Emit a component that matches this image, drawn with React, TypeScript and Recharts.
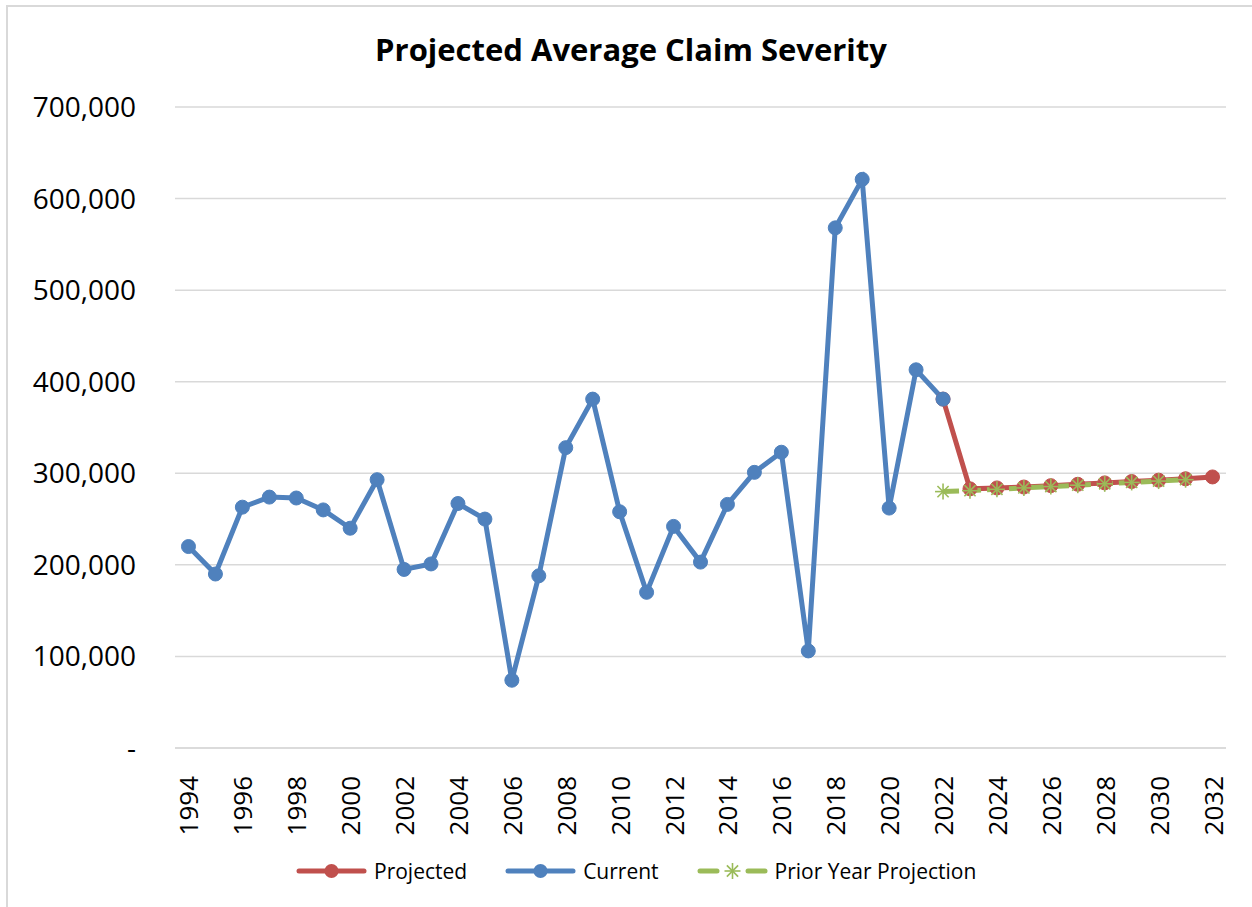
import React from "react";
import { LineChart, Line, XAxis, YAxis, CartesianGrid } from "recharts";

// years shown on the category axis
const years = [
	1994, 1995, 1996, 1997, 1998, 1999, 2000, 2001, 2002, 2003, 2004, 2005, 2006,
	2007, 2008, 2009, 2010, 2011, 2012, 2013, 2014, 2015, 2016, 2017, 2018, 2019,
	2020, 2021, 2022, 2023, 2024, 2025, 2026, 2027, 2028, 2029, 2030, 2031, 2032,
];

// actual average severity, 1994-2022
const current = [
	220000, 190000, 263000, 274000, 273000, 260000, 240000, 293000, 195000, 201000,
	267000, 250000, 74000, 188000, 328000, 381000, 258000, 170000, 242000, 203000,
	266000, 301000, 323000, 106000, 568000, 621000, 262000, 413000, 381000,
];

// projection starts from the last actual (2022) and runs to 2032
const projected = [
	381000, 283000, 284000, 285000, 286500, 288000, 289500, 291000, 292500, 294000,
	296000,
];

// last year's projection, 2022-2031
const priorYear = [
	280000, 281000, 282500, 284000, 285500, 287000, 288500, 290000, 291500, 293000,
];

const yTicks = [0, 100000, 200000, 300000, 400000, 500000, 600000, 700000];
const xTicks = years.filter((y) => y % 2 === 0);

const RED = "#C0504D";
const BLUE = "#4F81BD";
const GREEN = "#9BBB59";
const FONT = "'Open Sans', sans-serif";

const rows = years.map((year) => {
	const ci = year - 1994;
	const pi = year - 2022;
	return {
		year,
		current: ci < current.length ? current[ci] : null,
		projected: pi >= 0 && pi < projected.length ? projected[pi] : null,
		prior: pi >= 0 && pi < priorYear.length ? priorYear[pi] : null,
	};
});

const fmt = (v: number) => (v === 0 ? "-" : v.toLocaleString("en-US"));

function YearTick({ x, y, payload }: any) {
	return (
		<g transform={`translate(${x},${y + 20})`}>
			<text
				transform="rotate(-90)"
				textAnchor="end"
				dominantBaseline="central"
				fontSize={26}
				fontFamily={FONT}
				fill="#000"
			>
				{payload.value}
			</text>
		</g>
	);
}

function Star({ cx, cy, size = 8 }: any) {
	if (cx == null || cy == null) return null;
	const d = size;
	const s = d * 0.7;
	return (
		<g stroke={GREEN} strokeWidth={1.6}>
			<line x1={cx - d} y1={cy} x2={cx + d} y2={cy} />
			<line x1={cx} y1={cy - d} x2={cx} y2={cy + d} />
			<line x1={cx - s} y1={cy - s} x2={cx + s} y2={cy + s} />
			<line x1={cx - s} y1={cy + s} x2={cx + s} y2={cy - s} />
		</g>
	);
}

function LegendItem({ color, label, dashed }: any) {
	return (
		<div style={{ display: "flex", alignItems: "center", gap: 7 }}>
			<svg width={71} height={20}>
				{dashed ? (
					<>
						<line x1={3} y1={10} x2={20} y2={10} stroke={color} strokeWidth={5} strokeLinecap="round" />
						<line x1={51} y1={10} x2={68} y2={10} stroke={color} strokeWidth={5} strokeLinecap="round" />
						<Star cx={35.5} cy={10} size={8} />
					</>
				) : (
					<>
						<line x1={3} y1={10} x2={68} y2={10} stroke={color} strokeWidth={5} strokeLinecap="round" />
						<circle cx={35.5} cy={10} r={7} fill={color} />
					</>
				)}
			</svg>
			<span>{label}</span>
		</div>
	);
}

export default function App() {
	return (
		<div
			style={{
				position: "absolute",
				left: 0,
				top: 0,
				width: 1252,
				height: 907,
				background: "#fff",
				overflow: "hidden",
			}}
		>
			<div
				style={{
					position: "absolute",
					left: 6,
					top: 5,
					width: 1300,
					height: 950,
					borderLeft: "2px solid #d9d9d9",
					borderTop: "2px solid #d9d9d9",
				}}
			/>
			<div
				style={{
					position: "absolute",
					left: 0,
					top: 28,
					width: 1262,
					textAlign: "center",
					fontFamily: FONT,
					fontWeight: 700,
					fontSize: 31,
					color: "#000",
				}}
			>
				Projected Average Claim Severity
			</div>
			<div style={{ position: "absolute", left: 0, top: 0 }}>
				<LineChart
					width={1252}
					height={907}
					data={rows}
					margin={{ top: 107, right: 26, bottom: 59, left: 0 }}
				>
					<CartesianGrid horizontal vertical={false} stroke="#d9d9d9" strokeWidth={1.5} />
					<XAxis
						dataKey="year"
						type="number"
						domain={[1993.5, 2032.5]}
						ticks={xTicks}
						tick={<YearTick />}
						tickLine={false}
						axisLine={{ stroke: "#d9d9d9", strokeWidth: 1.5 }}
						height={100}
						interval={0}
					/>
					<YAxis
						domain={[0, 700000]}
						ticks={yTicks}
						tickFormatter={fmt}
						tickLine={false}
						axisLine={false}
						tickSize={0}
						tickMargin={39}
						width={175}
						tick={{ fontSize: 28, fontFamily: FONT, fill: "#000" }}
					/>
					<Line
						dataKey="projected"
						stroke={RED}
						strokeWidth={5}
						dot={{ r: 7, fill: RED, stroke: RED, strokeWidth: 1 }}
						isAnimationActive={false}
						connectNulls={false}
					/>
					<Line
						dataKey="current"
						stroke={BLUE}
						strokeWidth={5}
						dot={{ r: 7, fill: BLUE, stroke: BLUE, strokeWidth: 1 }}
						isAnimationActive={false}
					/>
					<Line
						dataKey="prior"
						stroke={GREEN}
						strokeWidth={5}
						strokeDasharray="16 6"
						dot={<Star size={8} />}
						isAnimationActive={false}
					/>
				</LineChart>
			</div>
			<div
				style={{
					position: "absolute",
					left: 296,
					top: 857,
					display: "flex",
					gap: 38,
					fontFamily: FONT,
					fontSize: 21,
					color: "#000",
				}}
			>
				<LegendItem color={RED} label="Projected" />
				<LegendItem color={BLUE} label="Current" />
				<LegendItem color={GREEN} label="Prior Year Projection" dashed />
			</div>
		</div>
	);
}
